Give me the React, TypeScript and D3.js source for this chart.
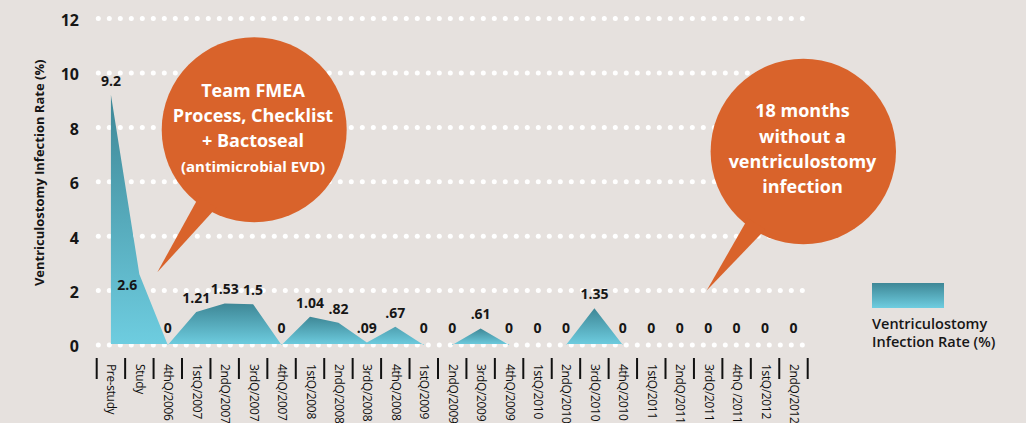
import React from 'react';
import * as d3 from 'd3';

const categories = [
  'Pre-study', 'Study', '4thQ/2006',
  '1stQ/2007', '2ndQ/2007', '3rdQ/2007', '4thQ/2007',
  '1stQ/2008', '2ndQ/2008', '3rdQ/2008', '4thQ/2008',
  '1stQ/2009', '2ndQ/2009', '3rdQ/2009', '4thQ/2009',
  '1stQ/2010', '2ndQ/2010', '3rdQ/2010', '4thQ/2010',
  '1stQ/2011', '2ndQ/2011', '3rdQ/2011', '4thQ /2011',
  '1stQ/2012', '2ndQ/2012',
];
const rates = [
  9.2, 2.6, 0,
  1.21, 1.53, 1.5, 0,
  1.04, 0.82, 0.09, 0.67,
  0, 0, 0.61, 0,
  0, 0, 1.35, 0,
  0, 0, 0, 0,
  0, 0,
];
const yTicks = [0, 2, 4, 6, 8, 10, 12];
const yTitle = 'Ventriculostomy Infection Rate (%)';
const legendLines = ['Ventriculostomy', 'Infection Rate (%)'];
const note1Lines = ['Team FMEA', 'Process, Checklist', '+ Bactoseal', '(antimicrobial EVD)'];
const note2Lines = ['18 months', 'without a', 'ventriculostomy', 'infection'];
const labelInside = ['Study'];

const W = 1026;
const H = 423;
const FONT = "'Open Sans', 'Noto Sans', sans-serif";
const BG = '#e6e1de';
const ORANGE = '#d9632b';
const TEXT = '#161616';

function fmt(v: number) {
  if (v === 0) return '0';
  if (v < 1) return String(v).replace(/^0/, '');
  return String(v);
}

function tailPath(cx: number, cy: number, r: number, tip: [number, number], a1: number, a2: number) {
  const rr = r - 6;
  const p1 = [cx + rr * Math.cos((a1 * Math.PI) / 180), cy + rr * Math.sin((a1 * Math.PI) / 180)];
  const p2 = [cx + rr * Math.cos((a2 * Math.PI) / 180), cy + rr * Math.sin((a2 * Math.PI) / 180)];
  const p = d3.path();
  p.moveTo(p1[0], p1[1]);
  p.lineTo(tip[0], tip[1]);
  p.lineTo(p2[0], p2[1]);
  p.closePath();
  return p.toString();
}

export default function App() {
  const x = d3.scaleBand<string>().domain(categories).range([96.7, 807.7]).padding(0);
  const y = d3.scaleLinear().domain([0, 12]).range([345, 18.6]);
  const cxOf = (c: string) => (x(c) as number) + x.bandwidth() / 2;
  const pts = categories.map((c, i) => ({ c, v: rates[i], px: cxOf(c) }));

  const segs: { c: string; v: number; px: number }[][] = [];
  let i = 0;
  while (i < pts.length) {
    if (pts[i].v === 0) { i++; continue; }
    const s = i;
    while (i < pts.length && pts[i].v !== 0) i++;
    const start = Math.max(0, s - 1);
    const end = Math.min(pts.length - 1, i);
    segs.push(pts.slice(start, end + 1));
  }
  const area = d3.area<{ px: number; v: number }>()
    .x((d) => d.px)
    .y0(y(0) - 1)
    .y1((d) => y(d.v));

  const [r0, r1] = x.range();
  const dotXs = d3.range(r0 + 1.6, r1 - 3, 11);
  const bounds = x.domain().map((c) => x(c) as number).concat([r1]);

  const b1 = { cx: 254.2, cy: 129.8, r: 92.5 };
  const b2 = { cx: 803.3, cy: 151.5, r: 92.7 };

  return (
    <svg width={W} height={H} style={{ position: 'absolute', left: 0, top: 0 }} fontFamily={FONT}>
      <defs>
        <linearGradient id="teal" x1="0" y1="0" x2="0" y2="1">
          <stop offset="0" stopColor="#3e8796" />
          <stop offset="1" stopColor="#6ecde0" />
        </linearGradient>
      </defs>
      <rect x={0} y={0} width={W} height={H} fill={BG} />

      {/* grid dots */}
      {yTicks.map((t) => (
        <g key={'g' + t}>
          {dotXs.map((dx, k) => (
            <circle key={k} cx={dx} cy={y(t)} r={2.5} fill="#ffffff" />
          ))}
        </g>
      ))}

      {/* y tick labels */}
      {yTicks.map((t) => (
        <text key={'yt' + t} x={79} y={y(t) + 7.4} textAnchor="end" fontSize={16} fontWeight={700} fill={TEXT}>
          {t}
        </text>
      ))}

      {/* y title */}
      <text
        transform={`translate(38.5, ${(y(0) + y(12)) / 2 - 9}) rotate(-90)`}
        textAnchor="middle"
        dominantBaseline="central"
        fontSize={13}
        fontWeight={700}
        fill={TEXT}
      >
        {yTitle}
      </text>

      {/* areas */}
      {segs.map((seg, k) => (
        <path key={'a' + k} d={area(seg) as string} fill="url(#teal)" />
      ))}

      {/* value labels */}
      {pts.map((p, k) => {
        const inside = labelInside.includes(p.c);
        const by = inside ? y(p.v) + 16 : Math.min(y(p.v) - 9, y(0) - 12);
        const bx = inside ? p.px - 12 : p.px;
        return (
          <text key={'vl' + k} x={bx} y={by} textAnchor="middle" fontSize={14} fontWeight={700} fill={TEXT}>
            {fmt(p.v)}
          </text>
        );
      })}

      {/* x ticks */}
      {bounds.map((b, k) => (
        <line key={'tk' + k} x1={b} x2={b} y1={358} y2={379} stroke="#111" strokeWidth={2} />
      ))}
      {categories.map((c) => (
        <text
          key={'xl' + c}
          transform={`translate(${cxOf(c) + 1}, 364) rotate(90)`}
          textAnchor="start"
          dominantBaseline="central"
          fontSize={12}
          letterSpacing={-0.35}
          fontWeight={500}
          fill="#0d0d0d"
        >
          {c}
        </text>
      ))}

      {/* legend */}
      <rect x={872} y={283} width={72} height={25} fill="url(#teal)" />
      {legendLines.map((l, k) => (
        <text key={'lg' + k} x={872} y={329.3 + k * 17.4} fontSize={14.5} fontWeight={600} fill={TEXT}>
          {l}
        </text>
      ))}

      {/* bubble 1 */}
      <circle cx={b1.cx} cy={b1.cy} r={b1.r} fill={ORANGE} />
      <path d={tailPath(b1.cx, b1.cy, b1.r, [157.3, 272.3], 129.6, 115.9)} fill={ORANGE} />
      {note1Lines.map((l, k) => (
        <text
          key={'n1' + k}
          x={253}
          y={97 + k * 25}
          textAnchor="middle"
          fontSize={k === 3 ? 15 : 18}
          fontWeight={700}
          fill="#ffffff"
        >
          {l}
        </text>
      ))}

      {/* bubble 2 */}
      <circle cx={b2.cx} cy={b2.cy} r={b2.r} fill={ORANGE} />
      <path d={tailPath(b2.cx, b2.cy, b2.r, [cxOf('3rdQ/2011') - 1.5, y(2)], 129.6, 116)} fill={ORANGE} />
      {note2Lines.map((l, k) => (
        <text
          key={'n2' + k}
          x={802.5}
          y={117.3 + k * 25.3}
          textAnchor="middle"
          fontSize={18}
          fontWeight={700}
          fill="#ffffff"
        >
          {l}
        </text>
      ))}
    </svg>
  );
}
